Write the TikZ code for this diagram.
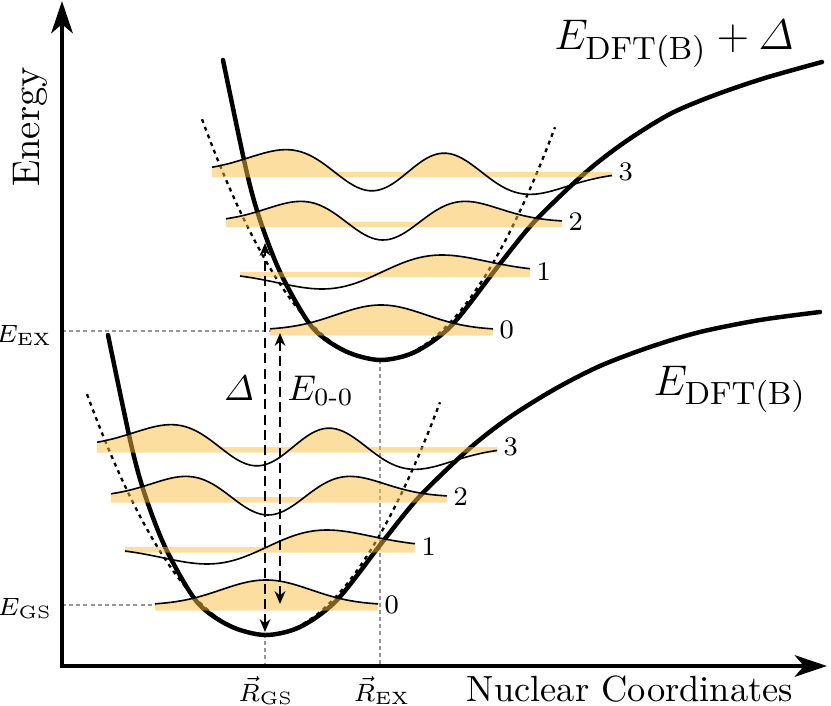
\documentclass[tikz,border=0pt]{standalone}
\usepackage{amsmath}
\usetikzlibrary{arrows.meta}
\definecolor{wavefill}{RGB}{249,189,65}
\definecolor{guidegray}{RGB}{150,150,150}
\pgfmathdeclarefunction{hzero}{1}{\pgfmathparse{exp(-0.5*(#1)*(#1))}}
\pgfmathdeclarefunction{hone}{1}{\pgfmathparse{(#1)*exp(-0.5*(#1)*(#1))}}
\pgfmathdeclarefunction{htwo}{1}{\pgfmathparse{(2*(#1)*(#1)-1)*exp(-0.5*(#1)*(#1))}}
\pgfmathdeclarefunction{hthree}{1}{\pgfmathparse{(3*(#1)-2*(#1)*(#1)*(#1))*exp(-0.5*(#1)*(#1))}}
\tikzset{
  pes/.style={line width=1.25pt, line cap=round},
  harm/.style={line width=0.65pt, dash pattern=on 1.1pt off 1.2pt},
  guide/.style={guidegray, line width=0.4pt, dash pattern=on 1.1pt off 0.9pt},
  wfill/.style={fill=wavefill, fill opacity=0.5},
  wline/.style={line width=0.45pt},
  trans/.style={line width=0.7pt, dash pattern=on 2.8pt off 1.5pt,
    {Stealth[length=3.6pt,width=3pt,inset=1.2pt]}-{Stealth[length=3.6pt,width=3pt,inset=1.2pt]}},
  axisline/.style={line width=1.25pt, -{Stealth[length=9pt,width=6pt,inset=2.5pt]}},
  lvl/.style={font=\fontsize{7.5}{9}\selectfont, inner sep=0pt, anchor=west},
  small/.style={font=\fontsize{7.5}{9}\selectfont, inner sep=0pt},
  mid/.style={font=\fontsize{10}{12}\selectfont, inner sep=0pt},
  big/.style={font=\fontsize{12.6}{15}\selectfont, inner sep=0pt},
}
% #1 fn, #2 start, #3 end, #4 centre, #5 width, #6 amplitude, #7 level, #8 label, #9 name
\newcommand{\vibwave}[9]{%
  \fill[wfill] plot[domain=#2:#3,samples=100,smooth] (\x,{#7-#6*max(#1((\x-#4)/#5),0)}) -- (#3,#7+5.5) -- (#2,#7+5.5) -- cycle;
  \draw[wline] plot[domain=#2:#3,samples=100,smooth] (\x,{#7-#6*#1((\x-#4)/#5)});
  \node[lvl] (#9) at (#3+6,#7) {#8};
}
\begin{document}
\begin{tikzpicture}[x=0.28pt, y=-0.28pt]
\useasboundingbox (0,0) rectangle (831,706);

% guide lines
\draw[guide] (62,331) -- (271,331);
\draw[guide] (62,605) -- (155,605);
\draw[guide] (265,634) -- (265,666);
\draw[guide] (380,360) -- (380,666);

% harmonic approximations
\draw[harm] plot[domain=87:440, samples=70] (\x,{635-0.76*((\x-265)/10)*((\x-265)/10)});
\draw[harm] plot[domain=202:555, samples=70] (\x,{360-0.76*((\x-380)/10)*((\x-380)/10)});

% potential energy curves
\draw[pes] plot[smooth] coordinates {(108,335) (131,444) (145,495) (166,549) (197,602) (230,626) (265,635) (300,627) (337,600) (384,540) (420,496) (470,448) (510,417) (555,389) (600,366) (650,347) (700,332) (760,320) (820,312)};
\draw[pes] plot[smooth] coordinates {(223,60) (246,169) (260,220) (281,274) (312,327) (345,351) (380,360) (415,352) (452,325) (499,265) (535,221) (585,173) (625,142) (670,114) (715,95) (765,78) (822,62)};

% vibrational wavefunctions, ground state
\vibwave{hzero}{155}{378}{266}{45}{25}{605}{0}{g0}
\vibwave{hone}{125}{415}{267}{60}{28}{547}{1}{g1}
\vibwave{htwo}{111}{447}{268}{52}{18}{497}{2}{g2}
\vibwave{hthree}{97}{497}{293}{60}{16.5}{447}{3}{g3}
% excited state
\vibwave{hzero}{270}{493}{381}{45}{25}{330}{0}{x0}
\vibwave{hone}{240}{530}{382}{60}{28}{272}{1}{x1}
\vibwave{htwo}{226}{562}{383}{52}{18}{222}{2}{x2}
\vibwave{hthree}{212}{612}{408}{60}{16.5}{172}{3}{x3}

% transitions
\coordinate (dtop) at (265,243);
\coordinate (dbot) at (265,632);
\coordinate (etop) at (280,333);
\coordinate (ebot) at (280,604);
\draw[trans] (dbot) -- (dtop);
\draw[trans] (ebot) -- (etop);

% axes
\coordinate (ybot) at (62,668);
\coordinate (ytop) at (62,1);
\coordinate (xleft) at (60,666);
\coordinate (xright) at (827,666);
\draw[axisline] (ybot) -- (ytop);
\draw[axisline] (xleft) -- (xright);

% labels
\node[rotate=90, anchor=base, font=\fontsize{10.8}{13}\selectfont, inner sep=0pt] (ylab) at (40,127) {Energy};
\node[anchor=base, font=\fontsize{10.2}{12}\selectfont, inner sep=0pt] (xlab) at (630,701) {Nuclear Coordinates};
\node[small, anchor=base] (rgs) at (266,701) {$\vec{R}_{\mathrm{GS}}$};
\node[small, anchor=base] (rex) at (382,701) {$\vec{R}_{\mathrm{EX}}$};
\node[small, anchor=base east] (eex) at (53,342) {$E_{\mathrm{EX}}$};
\node[small, anchor=base east] (egs) at (53,615) {$E_{\mathrm{GS}}$};
\node[mid, anchor=base] (dl) at (239,400) {$\varDelta$};
\node[mid, anchor=base west] (e00) at (287,400) {$E_{\text{0-0}}$};
\node[big, anchor=base] (eup) at (674,50) {$E_{\mathrm{DFT(B)}}+\varDelta$};
\node[big, anchor=base] (elo) at (730,395) {$E_{\mathrm{DFT(B)}}$};
\end{tikzpicture}
\end{document}
